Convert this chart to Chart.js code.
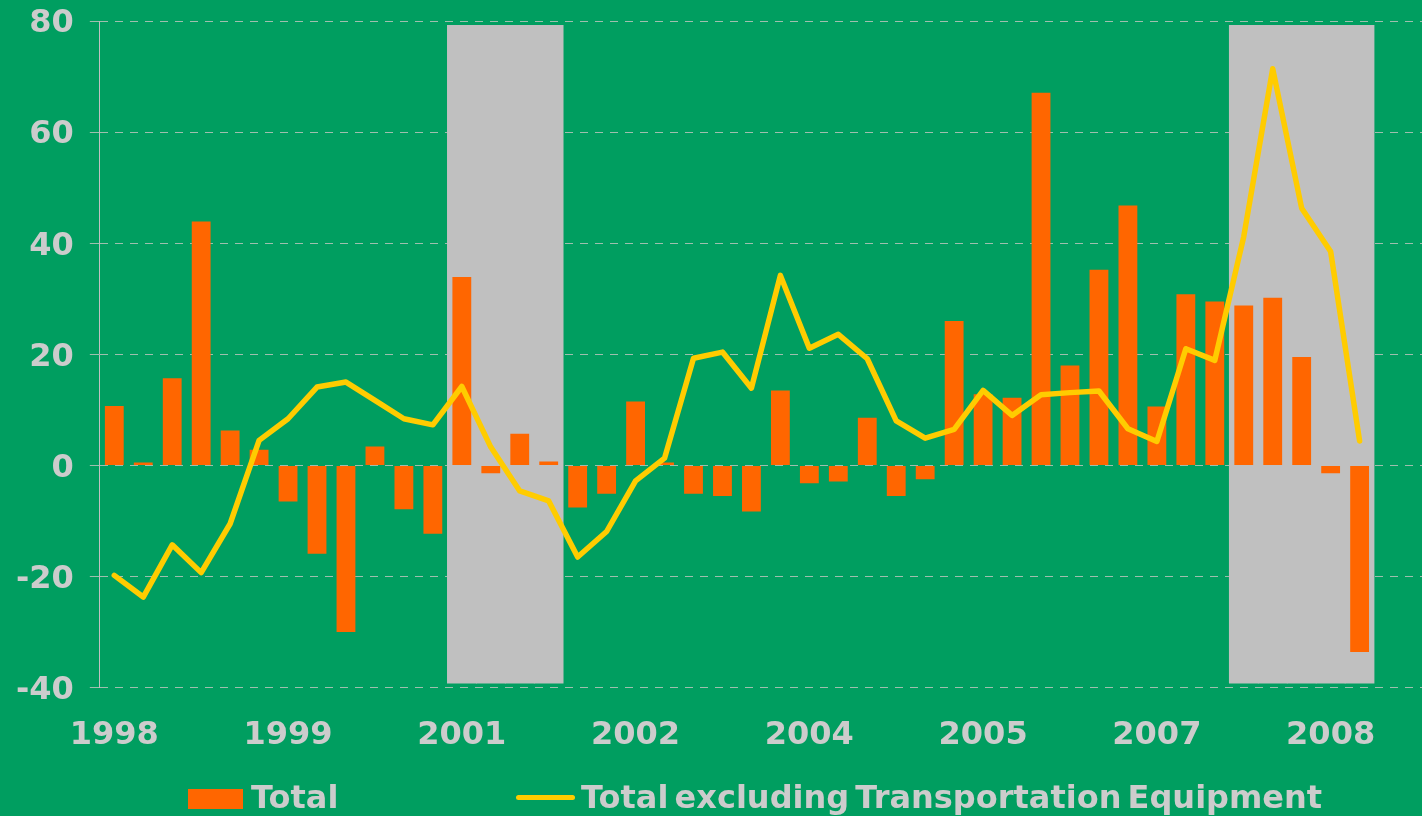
<!DOCTYPE html>
<html>
<head>
<meta charset="utf-8">
<script src="https://cdn.jsdelivr.net/npm/chart.js@4/dist/chart.umd.min.js"></script>
<style>
  html, body { margin: 0; padding: 0; background: #009e60; overflow: hidden; }
  #wrap { position: relative; width: 1432px; height: 816px; }
  #legend { position: absolute; left: 0; top: 776px; width: 1422px; height: 42px;
            font: bold 32px "DejaVu Sans"; color: #cccccc; }
  .item { position: absolute; top: 0; height: 42px; line-height: 42px;
          display: flex; align-items: center; white-space: nowrap; }
  .box { width: 55px; height: 20px; margin-right: 8px; position: relative; top: 2px; }
  .line { width: 59px; height: 5px; border-radius: 3px; margin-right: 6px; }
  .long { word-spacing: -5px; }
</style>
</head>
<body>
<div id="wrap">
  <canvas id="chart"></canvas>
  <div id="legend"></div>
</div>
<script>
// quarters 1998Q1 .. 2009Q2 (the last two are empty, the picture is cut off there)
const quarters = [
    "1998 Q1", "1998 Q2", "1998 Q3", "1998 Q4",
    "1999 Q1", "1999 Q2", "1999 Q3", "1999 Q4",
    "2000 Q1", "2000 Q2", "2000 Q3", "2000 Q4",
    "2001 Q1", "2001 Q2", "2001 Q3", "2001 Q4",
    "2002 Q1", "2002 Q2", "2002 Q3", "2002 Q4",
    "2003 Q1", "2003 Q2", "2003 Q3", "2003 Q4",
    "2004 Q1", "2004 Q2", "2004 Q3", "2004 Q4",
    "2005 Q1", "2005 Q2", "2005 Q3", "2005 Q4",
    "2006 Q1", "2006 Q2", "2006 Q3", "2006 Q4",
    "2007 Q1", "2007 Q2", "2007 Q3", "2007 Q4",
    "2008 Q1", "2008 Q2", "2008 Q3", "2008 Q4",
    "2009 Q1", "2009 Q2"
];

// one year label every 6 quarters
const tickYears = ["1998", "1999", "2001", "2002", "2004", "2005", "2007", "2008"];

const total = [
    10.7, 0.5, 15.7, 43.9, 6.3, 2.8, -6.5, -15.9, -30.0, 3.4, -7.9,
    -12.3, 33.9, -1.4, 5.7, 0.7, -7.6, -5.1, 11.5, 0.5, -5.1, -5.5,
    -8.3, 13.5, -3.2, -2.9, 8.6, -5.5, -2.5, 26.0, 12.8, 12.2, 67.1,
    18.0, 35.2, 46.8, 10.6, 30.8, 29.5, 28.8, 30.2, 19.5, -1.4, -33.6
];

const totalExTransport = [
    -19.8, -23.7, -14.3, -19.3, -10.5, 4.5, 8.4, 14.1, 15.0, 11.7, 8.4,
    7.3, 14.2, 3.3, -4.6, -6.4, -16.5, -11.9, -2.8, 1.3, 19.3, 20.4,
    13.9, 34.2, 21.1, 23.6, 19.2, 8.0, 4.9, 6.5, 13.5, 9.0, 12.7,
    13.1, 13.4, 6.6, 4.3, 21.0, 18.9, 41.2, 71.4, 46.3, 38.5, 4.4
];

// grey bands (recessions)
const recession = [
    0, 0, 0, 0, 0, 0, 0, 0, 0, 0, 0, 0,
    1, 1, 1, 1,
    0, 0, 0, 0, 0, 0, 0, 0, 0, 0, 0, 0, 0, 0, 0, 0, 0, 0, 0, 0, 0, 0, 0,
    1, 1, 1, 1, 1
];
const shadeRange = [-39.2, 79.2];

const textColor = "#cccccc";
const gridColor = "#9ebfae";
const font = { family: "DejaVu Sans", size: 32, weight: "bold" };

const ctx = document.getElementById("chart").getContext("2d");
const chart = new Chart(ctx, {
    type: "bar",
    data: {
        labels: quarters,
        datasets: [
            {
                type: "line",
                label: "Total excluding Transportation Equipment",
                data: totalExTransport,
                borderColor: "#ffcc00",
                backgroundColor: "#ffcc00",
                borderWidth: 5.5,
                pointRadius: 0,
                tension: 0,
                borderJoinStyle: "round",
                borderCapStyle: "round",
                order: 1
            },
            {
                label: "Total",
                data: total,
                backgroundColor: "#ff6600",
                barPercentage: 0.65,
                categoryPercentage: 1,
                order: 2
            },
            {
                label: "recession",
                data: recession.map(f => f ? shadeRange : null),
                backgroundColor: "#c0c0c0",
                grouped: false,
                barPercentage: 1,
                categoryPercentage: 1,
                order: 3
            }
        ]
    },
    options: {
        responsive: true,
        maintainAspectRatio: false,
        animation: false,
        layout: { padding: { top: 0, left: 0, right: 0, bottom: 32 } },
        plugins: {
            legend: { display: false },
            tooltip: { enabled: false }
        },
        scales: {
            x: {
                grid: { display: false, drawTicks: false },
                border: { display: false },
                ticks: {
                    autoSkip: false,
                    maxRotation: 0,
                    padding: 29,
                    color: textColor,
                    font: font,
                    callback: function (v, i) {
                        return i % 6 === 0 ? (tickYears[i / 6] || "") : "";
                    }
                },
                // plot runs out to the right edge
                afterFit: function (scale) {
                    scale.paddingRight = 0;
                }
            },
            y: {
                min: -40,
                max: 80,
                ticks: { stepSize: 20, padding: 16, labelOffset: 3, color: textColor, font: font },
                grid: { color: gridColor, tickColor: gridColor, tickLength: 10 },
                border: { display: true, color: "#c0c0c0", width: 1, dash: [8, 7] },
                afterFit: function (scale) {
                    scale.paddingTop = 21;
                    scale.paddingBottom = 0;
                }
            }
        }
    }
});

// legend below the chart, made from the datasets
const legend = document.getElementById("legend");
const legendItems = [
    { ds: chart.data.datasets[1], left: 188, kind: "box" },
    { ds: chart.data.datasets[0], left: 516, kind: "line" }
];
for (const it of legendItems) {
    const item = document.createElement("div");
    item.className = "item";
    item.style.left = it.left + "px";
    const mark = document.createElement("span");
    mark.className = it.kind;
    mark.style.background = it.kind === "box" ? it.ds.backgroundColor : it.ds.borderColor;
    const txt = document.createElement("span");
    if (it.kind === "line") txt.className = "long";
    txt.textContent = it.ds.label;
    item.appendChild(mark);
    item.appendChild(txt);
    legend.appendChild(item);
}
</script>
</body>
</html>
